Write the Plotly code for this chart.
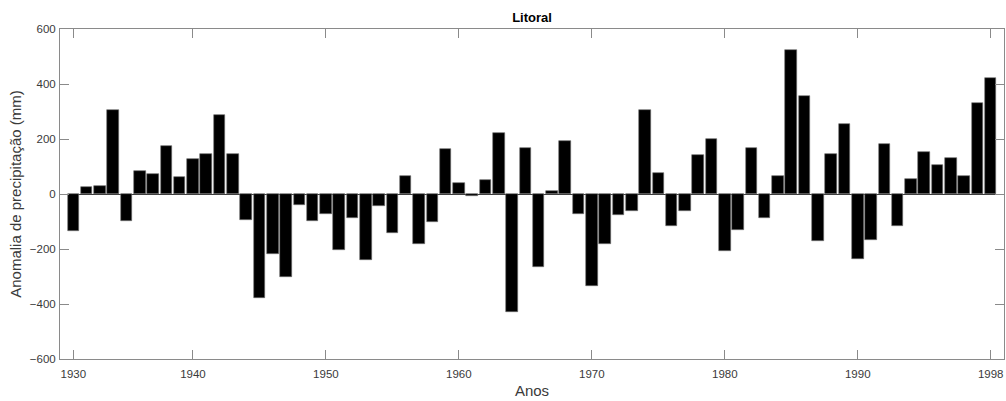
import plotly.graph_objects as go

# Annual precipitation anomaly (mm), one bar per year in sequence
anomaly_mm = [
    -135, 26, 29, 306, -99, 84, 72, 175, 61, 128,
    146, 286, 147, -93, -378, -217, -301, -39, -98, -72,
    -205, -89, -240, -42, -141, 66, -180, -102, 163, 39,
    -7, 51, 223, -428, 167, -265, 10, 192, -72, -334,
    -180, -75, -63, 306, 76, -117, -60, 143, 199, -207,
    -130, 169, -89, 66, 523, 358, -172, 145, 253, -237,
    -167, 182, -116, 54, 153, 105, 130, 66, 330, 422,
]
bar_index = list(range(1, len(anomaly_mm) + 1))

# Labelled positions along the sequence
tick_index = [1, 10, 20, 30, 40, 50, 60, 70]
tick_labels = ["1930", "1940", "1950", "1960", "1970", "1980", "1990", "1998"]
y_ticks = [-600, -400, -200, 0, 200, 400, 600]

FONT = "Liberation Sans, Arial, Helvetica, sans-serif"
AXIS_GREY = "#8a8a8a"
TEXT_GREY = "#3a3a3a"

fig = go.Figure(
    go.Bar(
        x=bar_index,
        y=anomaly_mm,
        width=0.87,
        marker=dict(color="black", line=dict(color="#6e6e6e", width=0.6)),
        hoverinfo="x+y",
    )
)

axis_common = dict(
    showline=True,
    linecolor=AXIS_GREY,
    linewidth=1,
    mirror="allticks",
    ticks="inside",
    ticklen=9,
    tickwidth=1,
    tickcolor=AXIS_GREY,
    showgrid=False,
    tickfont=dict(family=FONT, size=11.5, color=TEXT_GREY),
)

fig.update_xaxes(
    range=[0, 71],
    tickmode="array",
    tickvals=tick_index,
    ticktext=tick_labels,
    zeroline=False,
    ticklabelstandoff=4,
    title=dict(text="Anos", font=dict(family=FONT, size=15, color=TEXT_GREY), standoff=6),
    **axis_common,
)
fig.update_yaxes(
    range=[-600, 600],
    tickmode="array",
    tickvals=y_ticks,
    zeroline=True,
    zerolinecolor="#3a3a3a",
    zerolinewidth=1,
    ticklabelstandoff=1,
    title=dict(
        text="Anomalia de precipitação (mm)",
        font=dict(family=FONT, size=15, color=TEXT_GREY),
        standoff=4,
    ),
    **axis_common,
)

fig.update_layout(
    width=1006,
    height=401,
    margin=dict(l=60, r=2, t=29, b=42),
    paper_bgcolor="white",
    plot_bgcolor="white",
    showlegend=False,
    bargap=0,
    title=dict(
        text="<b>Litoral</b>",
        font=dict(family=FONT, size=13, color="black"),
        x=0.5,
        xref="paper",
        xanchor="center",
        y=1,
        yref="paper",
        yanchor="bottom",
        pad=dict(b=7),
    ),
)

fig.write_html("out.html")
